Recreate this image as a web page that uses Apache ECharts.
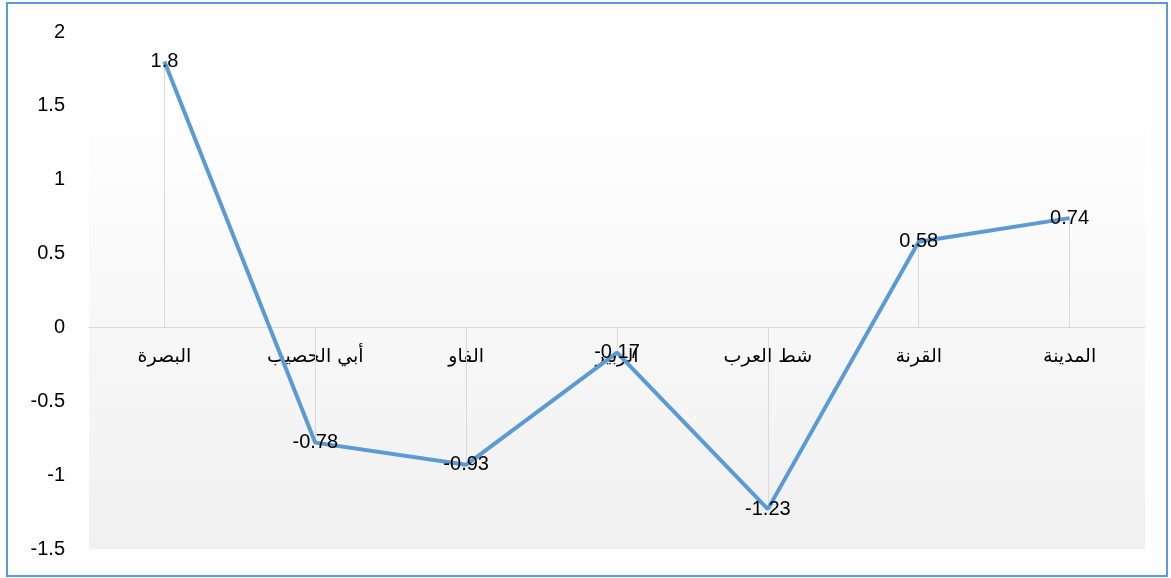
<!DOCTYPE html>
<html>
<head>
<meta charset="utf-8">
<script src="https://cdn.jsdelivr.net/npm/echarts@6/dist/echarts.min.js"></script>
<style>
html,body{margin:0;padding:0;background:#fff;}
#chart{width:1171px;height:578px;}
</style>
</head>
<body>
<div id="chart"></div>
<script>
const categories = ['البصرة', 'أبي الحصيب', 'الفاو', 'الزبير', 'شط العرب', 'القرنة', 'المدينة'];
const values = [1.8, -0.78, -0.93, -0.17, -1.23, 0.58, 0.74];
const yMin = -1.5, yMax = 2, yInterval = 0.5;

const gridTop = 32, gridBottom = 29, H = 578;
const gridHeight = H - gridTop - gridBottom;
const zeroOffset = -(0 - yMin) / (yMax - yMin) * gridHeight;

const chart = echarts.init(document.getElementById('chart'));
const dropLines = values.map((v, i) => [{coord: [i, 0]}, {coord: [i, v]}]);

chart.setOption({
  animation: false,
  graphic: [{
    type: 'rect',
    shape: {x: 7, y: 3, width: 1160, height: 573},
    style: {fill: 'none', stroke: '#5b9bd5', lineWidth: 2},
    z: 100
  }],
  grid: {
    left: 89, right: 26, top: gridTop, bottom: gridBottom,
    outerBoundsMode: 'none',
    containLabel: false,
    show: true,
    borderWidth: 0,
    backgroundColor: {
      type: 'linear', x: 0, y: 0, x2: 0, y2: 1,
      colorStops: [{offset: 0, color: '#ffffff'}, {offset: 0.12, color: '#ffffff'}, {offset: 1, color: '#f0f0f0'}]
    }
  },
  xAxis: {
    type: 'category',
    data: categories,
    boundaryGap: true,
    position: 'bottom',
    offset: zeroOffset,
    axisLine: {onZero: false, lineStyle: {color: '#d9d9d9', width: 1}},
    axisTick: {show: false},
    axisLabel: {
      color: '#000', fontSize: 19, margin: 20,
      fontFamily: '"DejaVu Sans", "Noto Sans", sans-serif'
    },
    splitLine: {show: false}
  },
  yAxis: {
    type: 'value',
    min: yMin, max: yMax, interval: yInterval,
    axisLine: {show: false},
    axisTick: {show: false},
    splitLine: {show: false},
    axisLabel: {color: '#000', fontSize: 20, margin: 24, fontFamily: '"Liberation Sans", Arial, sans-serif'}
  },
  series: [{
    type: 'line',
    data: values,
    symbol: 'circle',
    symbolSize: 1,
    itemStyle: {color: 'rgba(0,0,0,0)'},
    lineStyle: {color: '#5b9bd5', width: 4},
    label: {
      show: true, position: 'inside', color: '#000', fontSize: 20,
      fontFamily: '"Liberation Sans", Arial, sans-serif'
    },
    markLine: {
      silent: true,
      symbol: ['none', 'none'],
      label: {show: false},
      lineStyle: {color: '#d9d9d9', width: 1, type: 'solid'},
      data: dropLines,
      z: 1
    },
    z: 3
  }]
});
</script>
</body>
</html>
